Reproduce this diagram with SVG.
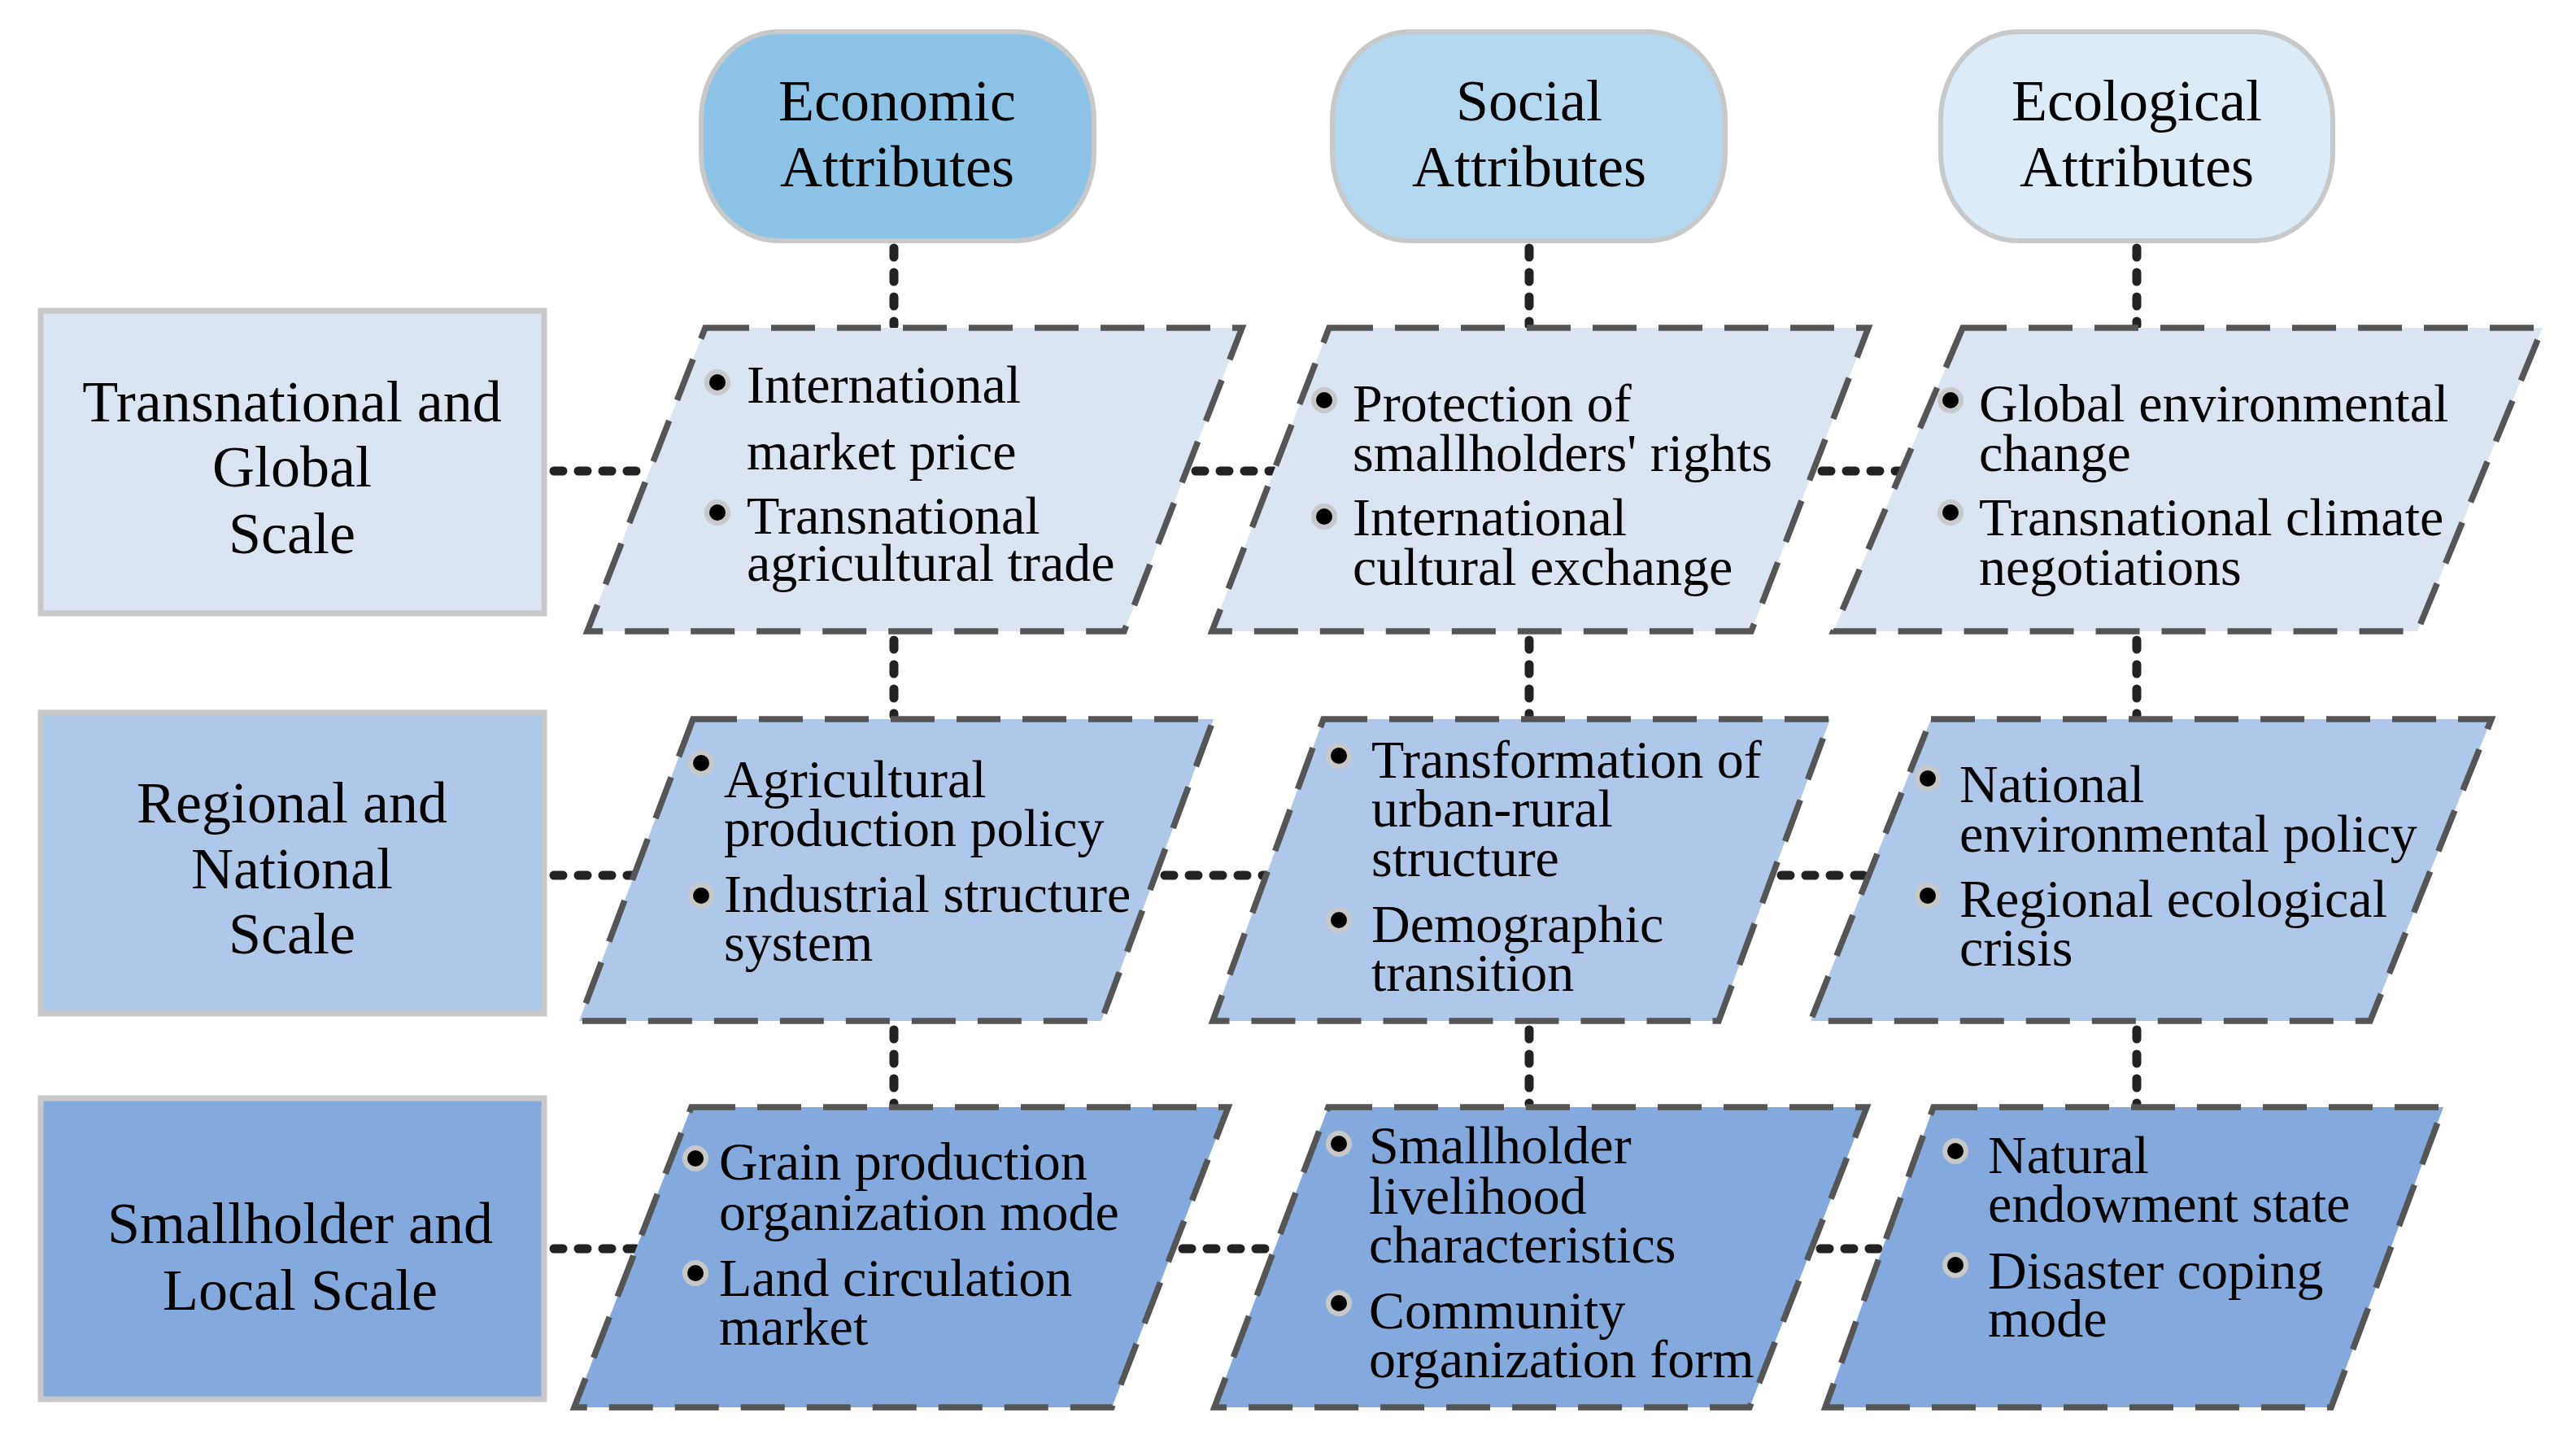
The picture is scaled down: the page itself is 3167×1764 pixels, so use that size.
<svg xmlns="http://www.w3.org/2000/svg" xmlns:xlink="http://www.w3.org/1999/xlink" width="3167" height="1764" viewBox="0 0 3167 1764">
<style>
text{font-family:"Liberation Serif","Times New Roman",serif;fill:#000}
.hd{font-size:72px;text-anchor:middle}
.bt{font-size:66px}
.pill{stroke:#c8c8c8;stroke-width:6}
.scale{stroke:#c8c8c8;stroke-width:7}
.para{stroke:#555555;stroke-width:7.5;stroke-dasharray:54 27}
.con{stroke:#222222;stroke-width:11;stroke-linecap:round;stroke-dasharray:11 19;fill:none}
.r1{fill:#dae4f3}.r2{fill:#afc7e8}.r3{fill:#84aadd}
</style>
<defs>
<g id="bul"><circle cx="0" cy="0" r="16" fill="#c8c8c8"/><circle cx="0" cy="0" r="10" fill="#000"/></g>
</defs>
<rect width="3167" height="1764" fill="#fff"/>
<g id="connectors">
<line class="con" x1="1099" y1="305" x2="1099" y2="400"/>
<line class="con" x1="1880" y1="305" x2="1880" y2="400"/>
<line class="con" x1="2627" y1="305" x2="2627" y2="400"/>
<line class="con" x1="1099" y1="787" x2="1099" y2="880"/>
<line class="con" x1="1880" y1="787" x2="1880" y2="880"/>
<line class="con" x1="2627" y1="787" x2="2627" y2="880"/>
<line class="con" x1="1099" y1="1266" x2="1099" y2="1357"/>
<line class="con" x1="1880" y1="1266" x2="1880" y2="1357"/>
<line class="con" x1="2627" y1="1266" x2="2627" y2="1357"/>
<line class="con" x1="681" y1="579" x2="800" y2="579"/>
<line class="con" x1="1470" y1="579" x2="1566" y2="579"/>
<line class="con" x1="2240" y1="579" x2="2338" y2="579"/>
<line class="con" x1="681" y1="1076" x2="780" y2="1076"/>
<line class="con" x1="1432" y1="1076" x2="1557" y2="1076"/>
<line class="con" x1="2190" y1="1076" x2="2297" y2="1076"/>
<line class="con" x1="681" y1="1535" x2="782" y2="1535"/>
<line class="con" x1="1454" y1="1535" x2="1567" y2="1535"/>
<line class="con" x1="2238" y1="1535" x2="2314" y2="1535"/>
</g>
<g id="attr-economic">
<rect class="pill" x="862" y="39" width="483" height="257" rx="95" ry="108" fill="#8dc3e6"/>
<text class="hd" x="1103" y="148">Economic</text>
<text class="hd" x="1103" y="229">Attributes</text>
</g>
<g id="attr-social">
<rect class="pill" x="1638" y="39" width="483" height="257" rx="95" ry="108" fill="#b4d8f0"/>
<text class="hd" x="1880" y="148">Social</text>
<text class="hd" x="1880" y="229">Attributes</text>
</g>
<g id="attr-ecological">
<rect class="pill" x="2386" y="39" width="482" height="257" rx="95" ry="108" fill="#dbebf7"/>
<text class="hd" x="2627" y="148">Ecological</text>
<text class="hd" x="2627" y="229">Attributes</text>
</g>
<g id="scale-global">
<rect class="scale r1" x="50" y="382" width="619" height="372"/>
<text class="hd" x="359" y="518">Transnational and</text>
<text class="hd" x="359" y="598">Global</text>
<text class="hd" x="359" y="680">Scale</text>
</g>
<g id="scale-national">
<rect class="scale r2" x="50" y="876" width="619" height="370"/>
<text class="hd" x="359" y="1011">Regional and</text>
<text class="hd" x="359" y="1092">National</text>
<text class="hd" x="359" y="1172">Scale</text>
</g>
<g id="scale-local">
<rect class="scale r3" x="50" y="1350" width="619" height="370"/>
<text class="hd" x="369" y="1528">Smallholder and</text>
<text class="hd" x="369" y="1610">Local Scale</text>
</g>
<g id="global-economic">
<polygon class="para r1" points="867,403 1527,403 1382,776 722,776"/>
<use xlink:href="#bul" x="882" y="470"/>
<text class="bt" x="918" y="495">International</text>
<text class="bt" x="918" y="577">market price</text>
<use xlink:href="#bul" x="882" y="630"/>
<text class="bt" x="918" y="656">Transnational</text>
<text class="bt" x="918" y="714">agricultural trade</text>
</g>
<g id="global-social">
<polygon class="para r1" points="1634,403 2297,403 2153,776 1490,776"/>
<use xlink:href="#bul" x="1628" y="492"/>
<text class="bt" x="1663" y="518">Protection of</text>
<text class="bt" x="1663" y="579">smallholders' rights</text>
<use xlink:href="#bul" x="1628" y="635"/>
<text class="bt" x="1663" y="658">International</text>
<text class="bt" x="1663" y="719">cultural exchange</text>
</g>
<g id="global-ecological">
<polygon class="para r1" points="2413,403 3126,403 2972,776 2254,776"/>
<use xlink:href="#bul" x="2398" y="492"/>
<text class="bt" x="2433" y="518">Global environmental</text>
<text class="bt" x="2433" y="579">change</text>
<use xlink:href="#bul" x="2398" y="630"/>
<text class="bt" x="2433" y="658">Transnational climate</text>
<text class="bt" x="2433" y="719">negotiations</text>
</g>
<g id="national-economic">
<polygon class="para r2" points="852,884 1492,884 1354,1255 712,1255"/>
<use xlink:href="#bul" x="862" y="938"/>
<text class="bt" x="890" y="980">Agricultural</text>
<text class="bt" x="890" y="1040">production policy</text>
<use xlink:href="#bul" x="862" y="1101"/>
<text class="bt" x="890" y="1121">Industrial structure</text>
<text class="bt" x="890" y="1181">system</text>
</g>
<g id="national-social">
<polygon class="para r2" points="1627,884 2250,884 2113,1255 1491,1255"/>
<use xlink:href="#bul" x="1646" y="929"/>
<text class="bt" x="1686" y="956">Transformation of</text>
<text class="bt" x="1686" y="1016">urban-rural</text>
<text class="bt" x="1686" y="1077">structure</text>
<use xlink:href="#bul" x="1646" y="1131"/>
<text class="bt" x="1686" y="1158">Demographic</text>
<text class="bt" x="1686" y="1218">transition</text>
</g>
<g id="national-ecological">
<polygon class="para r2" points="2374,884 3063,884 2914,1255 2226,1255"/>
<use xlink:href="#bul" x="2370" y="957"/>
<text class="bt" x="2409" y="986">National</text>
<text class="bt" x="2409" y="1047">environmental policy</text>
<use xlink:href="#bul" x="2370" y="1101"/>
<text class="bt" x="2409" y="1127">Regional ecological</text>
<text class="bt" x="2409" y="1187">crisis</text>
</g>
<g id="local-economic">
<polygon class="para r3" points="850,1361 1510,1361 1367,1730 706,1730"/>
<use xlink:href="#bul" x="855" y="1424"/>
<text class="bt" x="884" y="1450">Grain production</text>
<text class="bt" x="884" y="1512">organization mode</text>
<use xlink:href="#bul" x="855" y="1565"/>
<text class="bt" x="884" y="1593">Land circulation</text>
<text class="bt" x="884" y="1653">market</text>
</g>
<g id="local-social">
<polygon class="para r3" points="1633,1361 2295,1361 2151,1730 1493,1730"/>
<use xlink:href="#bul" x="1646" y="1406"/>
<text class="bt" x="1683" y="1430">Smallholder</text>
<text class="bt" x="1683" y="1492">livelihood</text>
<text class="bt" x="1683" y="1552">characteristics</text>
<use xlink:href="#bul" x="1646" y="1602"/>
<text class="bt" x="1683" y="1633">Community</text>
<text class="bt" x="1683" y="1693">organization form</text>
</g>
<g id="local-ecological">
<polygon class="para r3" points="2377,1361 3004,1361 2866,1730 2244,1730"/>
<use xlink:href="#bul" x="2404" y="1415"/>
<text class="bt" x="2444" y="1442">Natural</text>
<text class="bt" x="2444" y="1502">endowment state</text>
<use xlink:href="#bul" x="2404" y="1555"/>
<text class="bt" x="2444" y="1584">Disaster coping</text>
<text class="bt" x="2444" y="1643">mode</text>
</g>
</svg>
